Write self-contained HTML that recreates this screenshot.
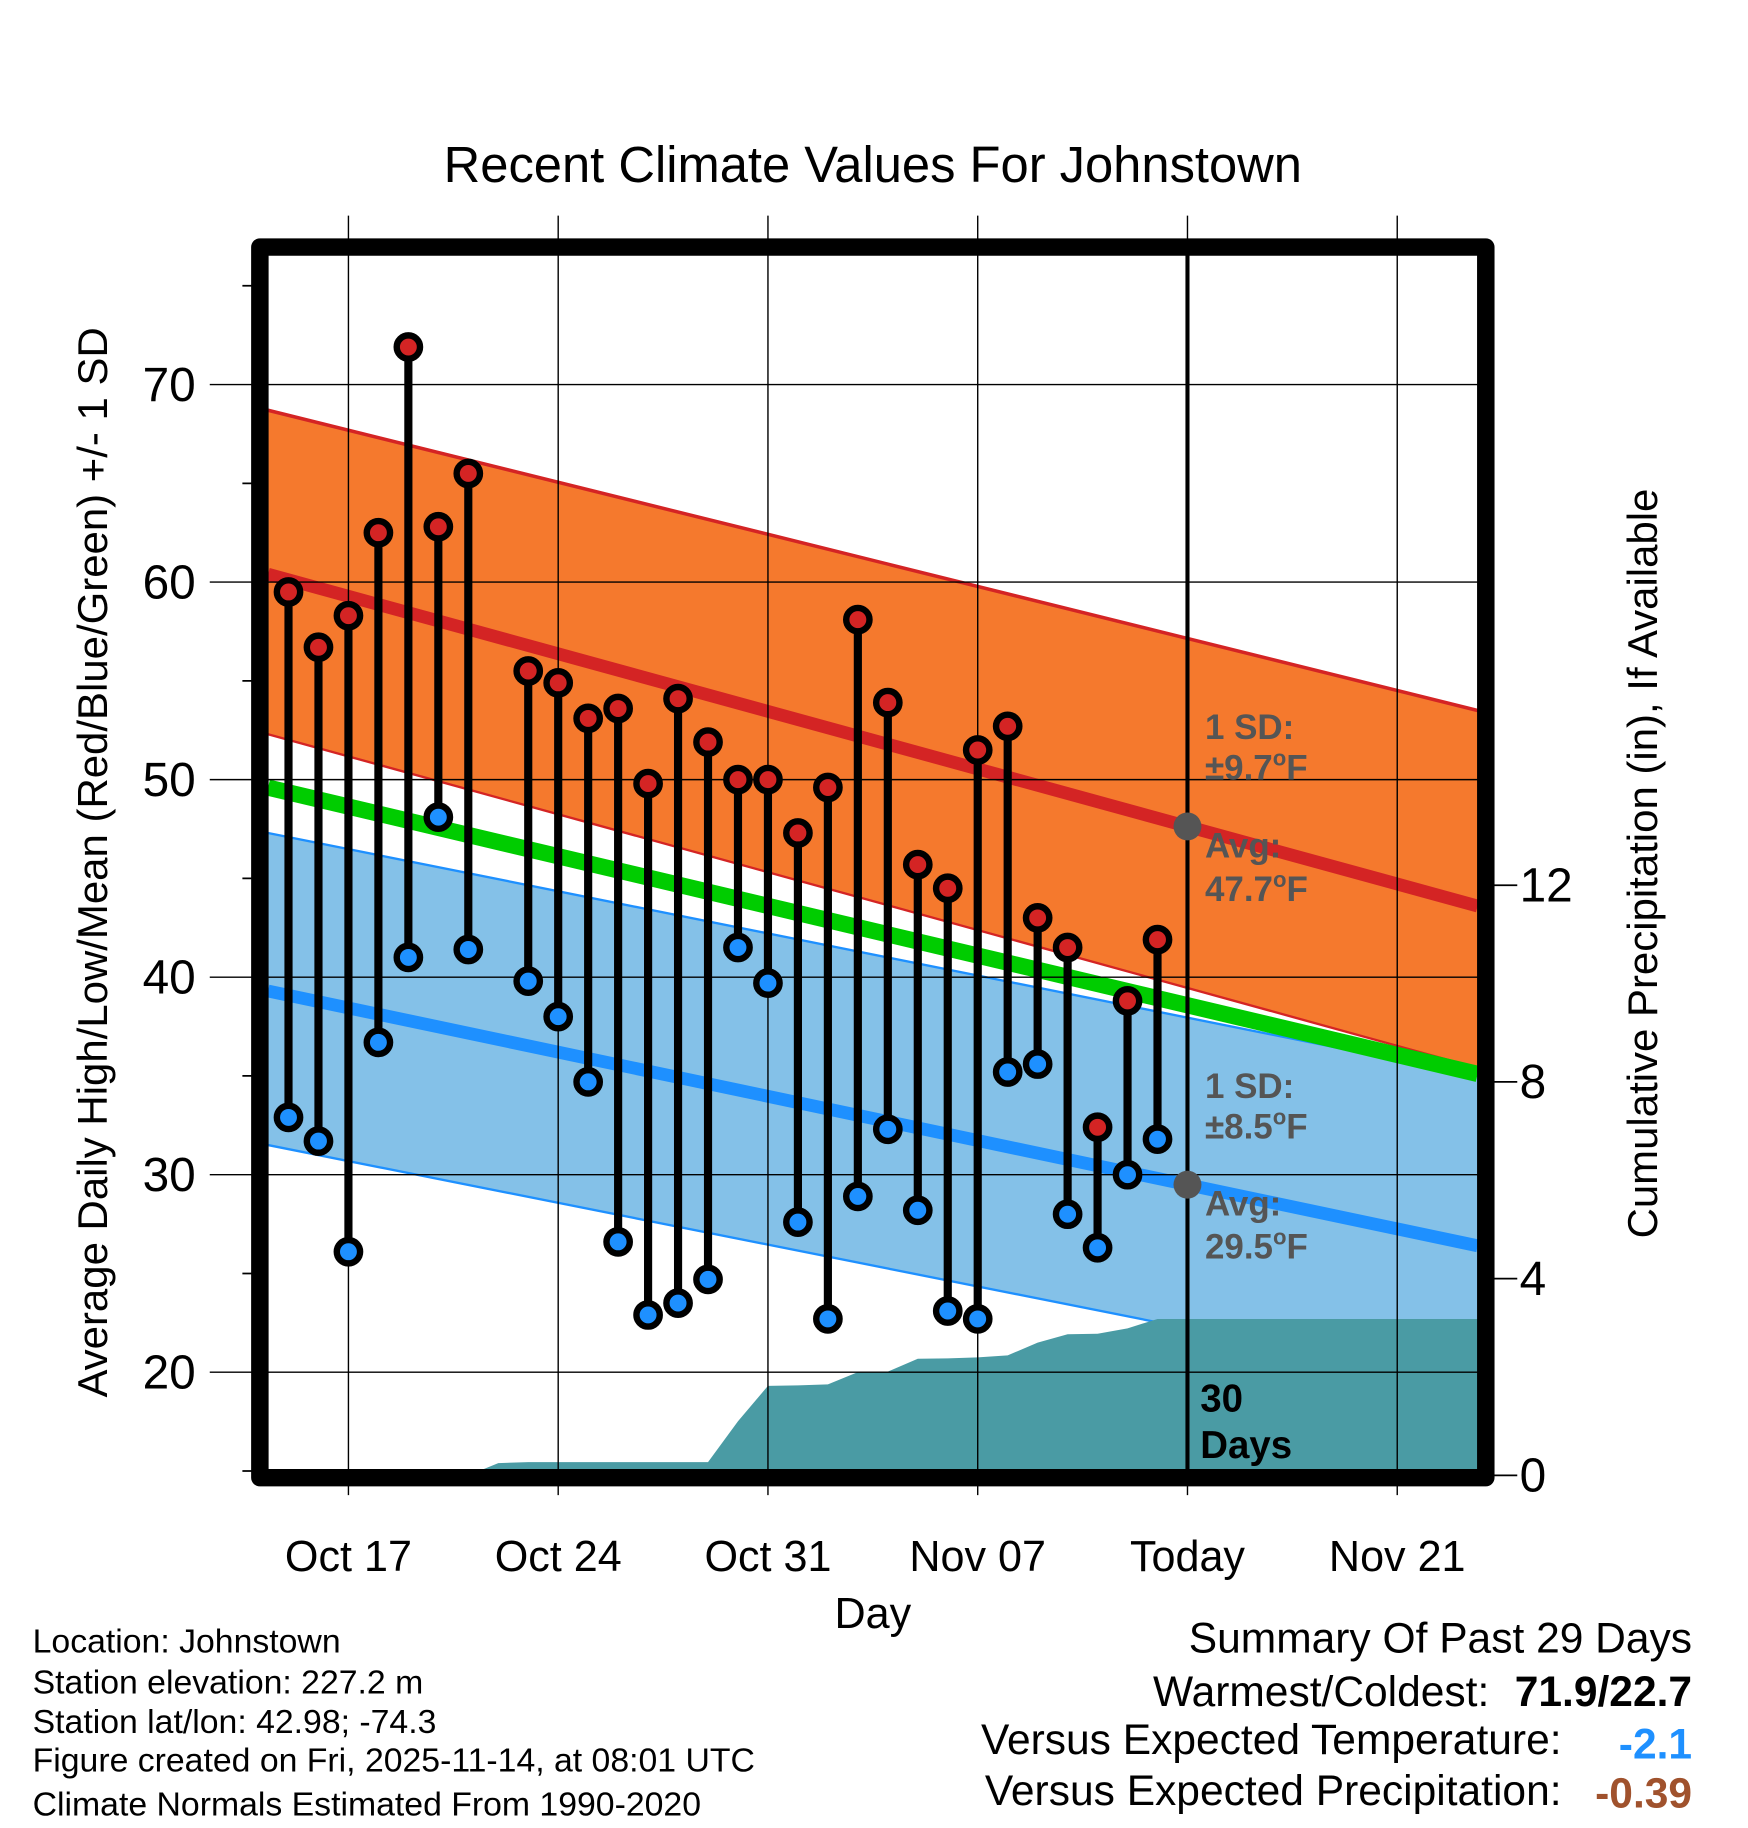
<!DOCTYPE html>
<html><head><meta charset="utf-8"><style>html,body{margin:0;padding:0;background:#fff}svg{display:block}text{font-family:"Liberation Sans",sans-serif}</style></head>
<body>
<svg id="chart" width="1748" height="1828" viewBox="0 0 1500 1568.6" preserveAspectRatio="none" xmlns="http://www.w3.org/2000/svg">
<rect width="1500" height="1568.6" fill="#fff"/>
<g id="bands"></g>
<g id="precip"></g>
<g id="grid"></g>
<g id="marks"></g>
<g id="frame"></g>
<g id="labels"></g>
</svg>
<script>
const days=[-2,-1,0,1,2,3,4,5,6,7,8,9,10,11,12,13,14,15,16,17,18,19,20,21,22,23,24,25,26,27];
const highs=[59.5,56.7,58.3,62.5,71.9,62.8,65.5,null,55.5,54.9,53.1,53.6,49.8,54.1,51.9,50.0,50.0,47.3,49.6,58.1,53.9,45.7,44.5,51.5,52.7,43.0,41.5,32.4,38.8,41.9];
const lows=[32.9,31.7,26.1,36.7,41.0,48.1,41.4,null,39.8,38.0,34.7,26.6,22.9,23.5,24.7,41.5,39.7,27.6,22.7,28.9,32.3,28.2,23.1,22.7,35.2,35.6,28.0,26.3,30.0,31.8];
const precip=[0,0,0,0,0,0,0,0.25,0.27,0.27,0.27,0.27,0.27,0.27,0.27,1.1,1.82,1.83,1.85,2.1,2.11,2.37,2.38,2.4,2.44,2.7,2.87,2.88,2.99,3.18];
const xTickDays=[0,7,14,21,28,35];
const xTickLabels=["Oct 17","Oct 24","Oct 31","Nov 07","Today","Nov 21"];
const yTicks=[20,30,40,50,60,70];
const pTicks=[0,4,8,12];
const redAvg=[60.4,43.6], redUpper=[68.7,53.5], redLower=[52.3,35.4];
const greenMean=[49.6,35.1];
const blueAvg=[39.3,26.4], blueUpper=[47.3,35.0], blueLower=[31.5,19.3];

const NS="http://www.w3.org/2000/svg";
const L=230,R=1268,T=219,B=1261;
const X=d=>299+d*180/7;
const Y=v=>330+(70-v)*16.95;
const P=v=>1266-v*42.2;
const dL=(L-299)*7/180, dR=(R-299)*7/180;
function mk(tag,attrs,parent,txt){const e=document.createElementNS(NS,tag);for(const k in attrs)e.setAttribute(k,attrs[k]);if(txt!==undefined)e.textContent=txt;document.getElementById(parent).appendChild(e);return e;}
function band(a){return `${L},${Y(a[0])} ${R},${Y(a[1])}`;}
function area(u,l){return `${L},${Y(u[0])} ${R},${Y(u[1])} ${R},${Y(l[1])} ${L},${Y(l[0])}`;}

let e;
e=mk('polygon',{points:area(blueUpper,blueLower),fill:'#84c1e8'},'bands');

e=mk('polyline',{points:band(blueUpper),stroke:'#1e90ff',"stroke-width":2,fill:'none'},'bands');

e=mk('polyline',{points:band(blueLower),stroke:'#1e90ff',"stroke-width":2,fill:'none'},'bands');

e=mk('polygon',{points:area(redUpper,redLower),fill:'#f5792d'},'bands');

e=mk('polyline',{points:band(redUpper),stroke:'#d42424',"stroke-width":3,fill:'none'},'bands');

e=mk('polyline',{points:band(redLower),stroke:'#d42424',"stroke-width":2,fill:'none'},'bands');

e=mk('polyline',{points:band(greenMean),stroke:'#00cc00',"stroke-width":14,fill:'none'},'bands');

e=mk('polyline',{points:band(redAvg),stroke:'#d42424',"stroke-width":11,fill:'none'},'bands');

e=mk('polyline',{points:band(blueAvg),stroke:'#1e90ff',"stroke-width":11,fill:'none'},'bands');


let pts=`${L},${B} ${L},${P(precip[0])} `;
days.forEach((d,i)=>{pts+=`${X(d)},${P(precip[i])} `;});
pts+=`${R},${P(precip[precip.length-1])} ${R},${B}`;
e=mk('polygon',{points:pts,fill:'#4a9ba4'},'precip');


xTickDays.forEach((d,i)=>{
  e=mk('line',{x1:X(d),x2:X(d),y1:185,y2:1283,stroke:'#000',"stroke-width":1.2},'grid');
  
  e=mk('text',{x:X(d),y:1348,"font-size":37,"text-anchor":"middle"},'labels',xTickLabels[i]);
  
});
yTicks.forEach(v=>{
  e=mk('line',{x1:180,x2:R,y1:Y(v),y2:Y(v),stroke:'#000',"stroke-width":1.2},'grid');
  
  e=mk('text',{x:168,y:Y(v)+14,"font-size":41,"text-anchor":"end"},'labels',String(v));
  
});
for(let v=15;v<=75;v+=5){ if(v%10){e=mk('line',{x1:208,x2:224,y1:Y(v),y2:Y(v),stroke:'#000',"stroke-width":1.5},'grid');}}
pTicks.forEach(v=>{
  e=mk('line',{x1:1274,x2:1302,y1:P(v),y2:P(v),stroke:'#000',"stroke-width":1.5},'grid');
  
  e=mk('text',{x:1304,y:P(v)+14,"font-size":41},'labels',String(v));
  
});
e=mk('line',{x1:X(28),x2:X(28),y1:T,y2:B,stroke:'#000',"stroke-width":3.5},'grid');


days.forEach((d,i)=>{
  if(highs[i]==null)return;
  e=mk('line',{x1:X(d),x2:X(d),y1:Y(highs[i]),y2:Y(lows[i]),stroke:'#000',"stroke-width":7},'marks');
  
});
days.forEach((d,i)=>{
  if(highs[i]==null)return;
  e=mk('circle',{cx:X(d),cy:Y(highs[i]),r:10,fill:'#d42424',stroke:'#000',"stroke-width":5.5},'marks');
  
  e=mk('circle',{cx:X(d),cy:Y(lows[i]),r:10,fill:'#1e90ff',stroke:'#000',"stroke-width":5.5},'marks');
  
});
const f=(28-dL)/(dR-dL);
const aH=redAvg[0]+(redAvg[1]-redAvg[0])*f;
const aLo=blueAvg[0]+(blueAvg[1]-blueAvg[0])*f;
e=mk('circle',{cx:X(28),cy:Y(aH),r:12,fill:'#555'},'marks');

e=mk('circle',{cx:X(28),cy:Y(aLo),r:12,fill:'#555'},'marks');


e=mk('rect',{x:223,y:212,width:1052,height:1056,fill:'none',stroke:'#000',"stroke-width":15,"stroke-linejoin":"round"},'frame');

</script>
<svg style="position:absolute;left:0;top:0" width="1748" height="1828" viewBox="0 0 1500 1568.6" preserveAspectRatio="none" xmlns="http://www.w3.org/2000/svg">
<g font-family="Liberation Sans, sans-serif">
<text x="749" y="156" font-size="43.5" text-anchor="middle">Recent Climate Values For Johnstown</text>
<text transform="translate(92,740) rotate(-90)" font-size="36" text-anchor="middle">Average Daily High/Low/Mean (Red/Blue/Green) +/- 1 SD</text>
<text transform="translate(1422,741) rotate(-90)" font-size="36" text-anchor="middle">Cumulative Precipitation (in), If Available</text>
<text x="749" y="1397" font-size="37" text-anchor="middle">Day</text>
<g font-weight="bold" font-size="30" fill="#555">
<text x="1034" y="634">1 SD:</text>
<text x="1034" y="669">±9.7<tspan font-size="19" dy="-12">o</tspan><tspan dy="12">F</tspan></text>
<text x="1034" y="736">Avg:</text>
<text x="1034" y="773">47.7<tspan font-size="19" dy="-12">o</tspan><tspan dy="12">F</tspan></text>
<text x="1034" y="942">1 SD:</text>
<text x="1034" y="977">±8.5<tspan font-size="19" dy="-12">o</tspan><tspan dy="12">F</tspan></text>
<text x="1034" y="1043">Avg:</text>
<text x="1034" y="1080">29.5<tspan font-size="19" dy="-12">o</tspan><tspan dy="12">F</tspan></text>
</g>
<text x="1030" y="1211" font-size="33" font-weight="bold">30</text>
<text x="1030" y="1251" font-size="33" font-weight="bold">Days</text>
<g font-size="29">
<text x="28" y="1418">Location: Johnstown</text>
<text x="28" y="1453">Station elevation: 227.2 m</text>
<text x="28" y="1487">Station lat/lon: 42.98; -74.3</text>
<text x="28" y="1520">Figure created on Fri, 2025-11-14, at 08:01 UTC</text>
<text x="28" y="1558">Climate Normals Estimated From 1990-2020</text>
</g>
<g font-size="36.5">
<text x="1452" y="1418" text-anchor="end">Summary Of Past 29 Days</text>
<text x="1278" y="1464" text-anchor="end">Warmest/Coldest:</text>
<text x="1452" y="1464" text-anchor="end" font-weight="bold">71.9/22.7</text>
<text x="1340" y="1505" text-anchor="end">Versus Expected Temperature:</text>
<text x="1452" y="1509" text-anchor="end" font-weight="bold" fill="#1e90ff">-2.1</text>
<text x="1340" y="1549" text-anchor="end">Versus Expected Precipitation:</text>
<text x="1452" y="1551" text-anchor="end" font-weight="bold" fill="#a0522d">-0.39</text>
</g>
</g>
</svg>
</body></html>
